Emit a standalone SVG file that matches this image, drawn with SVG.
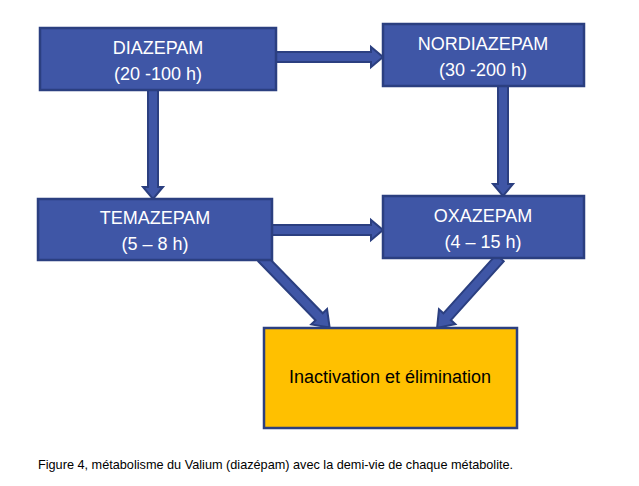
<svg xmlns="http://www.w3.org/2000/svg" width="639" height="486" viewBox="0 0 639 486">
<style>
.b{fill:#3F56A6;stroke:#2B3F80;stroke-width:2.5}
.y{fill:#FFC000;stroke:#2B3F80;stroke-width:2.5}
.t{font-family:"Liberation Sans",Arial,sans-serif;font-size:18px;fill:#fff;text-anchor:middle}
.a{fill:#3F56A6;stroke:#2B3F80;stroke-width:2;stroke-linejoin:miter}
</style>
<rect width="639" height="486" fill="#fff"/>
<g id="connectors">
<polygon class="a" transform="translate(276,57)" points="0,-5 95,-5 95,-10 107,0 95,10 95,5 0,5"/>
<polygon class="a" transform="translate(153,90) rotate(90)" points="0,-5 97,-5 97,-10 109,0 97,10 97,5 0,5"/>
<polygon class="a" transform="translate(503,86) rotate(90)" points="0,-5 98,-5 98,-10 110,0 98,10 98,5 0,5"/>
<polygon class="a" transform="translate(272,230)" points="0,-5 99,-5 99,-10 111,0 99,10 99,5 0,5"/>
<polygon class="a" transform="translate(262,258) rotate(45.8)" points="0,-5 82,-5 82,-11 97,0 82,11 82,5 0,5"/>
<polygon class="a" transform="translate(500,258) rotate(132)" points="0,-5 79,-5 79,-11 94,0 79,11 79,5 0,5"/>
</g>
<g id="diazepam"><rect class="b" x="40" y="28" width="236" height="62"/><text class="t" x="158" y="54">DIAZEPAM</text><text class="t" x="158" y="80">(20 -100 h)</text></g>
<g id="nordiazepam"><rect class="b" x="383" y="24" width="201" height="62"/><text class="t" x="483" y="50">NORDIAZEPAM</text><text class="t" x="483" y="76">(30 -200 h)</text></g>
<g id="temazepam"><rect class="b" x="38" y="199" width="234" height="61"/><text class="t" x="155" y="224">TEMAZEPAM</text><text class="t" x="155" y="250">(5 – 8 h)</text></g>
<g id="oxazepam"><rect class="b" x="383" y="196" width="201" height="62"/><text class="t" x="483" y="222">OXAZEPAM</text><text class="t" x="483" y="248">(4 – 15 h)</text></g>
<g id="inactivation"><rect class="y" x="264" y="328" width="253" height="100"/><text class="t" x="390" y="383" style="fill:#000">Inactivation et élimination</text></g>
<text x="38" y="469" style="font-family:'Liberation Sans',Arial,sans-serif;font-size:12.7px;fill:#000">Figure 4, métabolisme du Valium (diazépam) avec la demi-vie de chaque métabolite.</text>
</svg>
